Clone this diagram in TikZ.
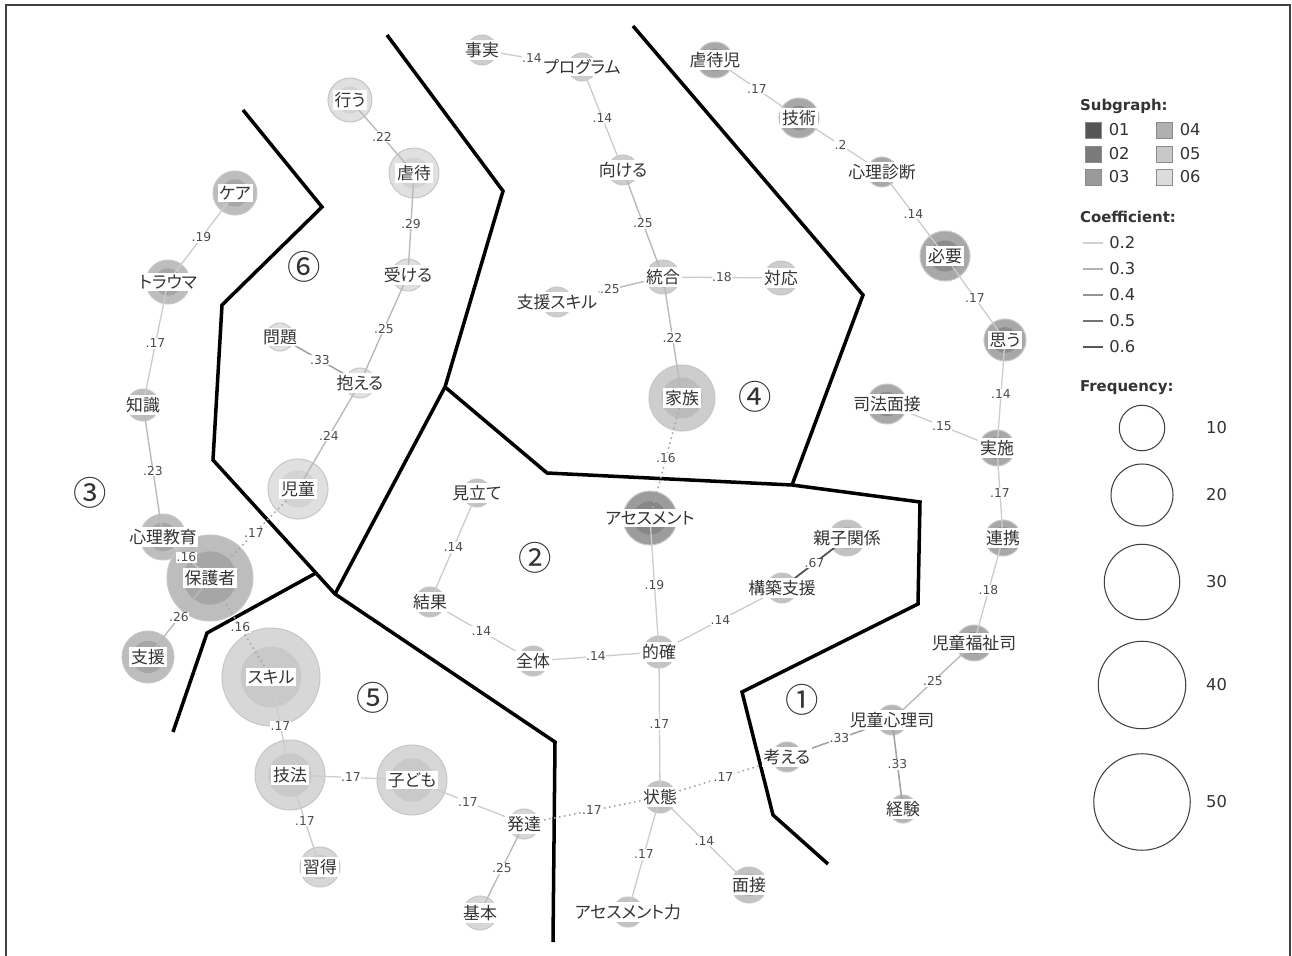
\documentclass[tikz,border=0pt]{standalone}
\usepackage{fontspec}
\setmainfont{DejaVu Sans}
\newfontfamily\jp[RawFeature=+palt]{Noto Sans CJK JP}
\newfontfamily\jpn{Noto Sans CJK JP}
\usetikzlibrary{positioning}

% subgraph shades (outer ring / inner disc)
\definecolor{gAo}{HTML}{A8A8A8}\definecolor{gAi}{HTML}{8D8D8D}
\definecolor{gBo}{HTML}{B6B6B6}\definecolor{gBi}{HTML}{A2A2A2}
\definecolor{gCo}{HTML}{9C9C9C}\definecolor{gCi}{HTML}{878787}
\definecolor{gDo}{HTML}{C2C2C2}\definecolor{gDi}{HTML}{ADADAD}
\definecolor{gEo}{HTML}{BDBDBD}\definecolor{gEi}{HTML}{A6A6A6}
\definecolor{gFo}{HTML}{CDCDCD}\definecolor{gFi}{HTML}{BCBCBC}
\definecolor{gGo}{HTML}{D7D7D7}\definecolor{gGi}{HTML}{C9C9C9}
\definecolor{gHo}{HTML}{E0E0E0}\definecolor{gHi}{HTML}{D3D3D3}
% legend squares
\definecolor{s01}{HTML}{555555}\definecolor{s02}{HTML}{7A7A7A}
\definecolor{s03}{HTML}{9A9A9A}\definecolor{s04}{HTML}{B0B0B0}
\definecolor{s05}{HTML}{C8C8C8}\definecolor{s06}{HTML}{DCDCDC}

\begin{document}
\begin{tikzpicture}[
  x=0.02cm, y=-0.02cm,
  kw/.style 2 args={circle, draw=black!22, line width=0.6pt, fill=#2o, inner sep=0pt,
    minimum size=#1*0.04cm,
    path picture={\fill[#2i] (path picture bounding box.center) circle[radius=#1*0.0124cm];}},
  kwl/.style={fill=white, inner sep=1pt, font=\jp\fontsize{9.6pt}{10pt}\selectfont, text=black!80},
  el/.style={font=\fontsize{7pt}{8pt}\selectfont, text=black!70, fill=white, inner sep=0.4pt},
  lnk/.style={line width=0.75pt, black!20},
  lnkb/.style={line width=0.8pt, black!27},
  lnkc/.style={line width=0.9pt, black!36},
  lnkd/.style={line width=1pt, black!68},
  cross/.style={line width=0.9pt, black!35, dotted},
  zone/.style={line width=2pt, black, line join=miter},
  rno/.style={font=\jpn\fontsize{19pt}{20pt}\selectfont, text=black!80},
  lgh/.style={anchor=west, inner sep=1pt, font=\bfseries\fontsize{8.5pt}{10pt}\selectfont, text=black!80},
  lgt/.style={inner sep=1pt, font=\fontsize{9.3pt}{11pt}\selectfont, text=black!80},
  sq/.style={draw=black!45, line width=0.5pt, minimum size=0.32cm, inner sep=0pt},
  fq/.style={circle, draw=black!75, line width=0.6pt, inner sep=0pt},
]
\useasboundingbox (0,0) rectangle (1292,956);
\draw[black!75, line width=0.8pt] (6,956) -- (6,5) -- (1290,5) -- (1290,956);

% subgraph borders
\coordinate (j1) at (445,387);
\coordinate (j2) at (335,594);
\coordinate (j3) at (792,485);
\coordinate (j4) at (316,573);
\draw[zone] (243,110) -- (322,207) -- (222,305) -- (213,460) -- (j2) -- (555,742) -- (553,942);
\draw[zone] (387,35) -- (503,191) -- (j1) -- (j2);
\draw[zone] (j1) -- (547,473) -- (j3) -- (920,502) -- (918,604) -- (742,692) -- (773,815) -- (828,864);
\draw[zone] (633,26) -- (863,295) -- (j3);
\draw[zone] (j4) -- (207,633) -- (173,732);

% words
\node[kw={15}{gF}] (jijitsu) at (482,50) {};
\node[kw={14}{gF}] (program) at (582,67) {};
\node[kw={15}{gF}] (mukeru) at (623,170) {};
\node[kw={17}{gF}] (tougou) at (663,277) {};
\node[kw={17}{gF}] (taiou) at (781,278) {};
\node[kw={15}{gF}] (shienskill) at (557,302) {};
\node[kw={33}{gF}] (kazoku) at (682,398) {};

\node[kw={22}{gH}] (okonau) at (350,100) {};
\node[kw={25}{gH}] (gyakutai) at (414,173) {};
\node[kw={16}{gH}] (ukeru) at (408,275) {};
\node[kw={14}{gH}] (mondai) at (280,337) {};
\node[kw={15}{gH}] (kakaeru) at (360,383) {};
\node[kw={30}{gH}] (jidou) at (298,489) {};

\node[kw={22}{gE}] (care) at (235,193) {};
\node[kw={22}{gE}] (trauma) at (168,282) {};
\node[kw={16}{gE}] (chishiki) at (143,405) {};
\node[kw={23}{gE}] (shinrikyouiku) at (163,537) {};
\node[kw={43}{gE}] (hogosha) at (210,578) {};
\node[kw={26}{gE}] (shien) at (148,657) {};

\node[kw={49}{gG}] (skill) at (271,677) {};
\node[kw={35}{gG}] (gihou) at (290,775) {};
\node[kw={35}{gG}] (kodomo) at (412,780) {};
\node[kw={20}{gG}] (shuutoku) at (320,867) {};
\node[kw={15}{gG}] (hattatsu) at (524,824) {};
\node[kw={17}{gG}] (kihon) at (480,913) {};

\node[kw={14}{gD}] (mitate) at (477,493) {};
\node[kw={27}{gC}] (assess) at (650,518) {};
\node[kw={18}{gD}] (oyako) at (847,538) {};
\node[kw={15}{gD}] (kouchiku) at (782,588) {};
\node[kw={15}{gD}] (kekka) at (430,602) {};
\node[kw={15}{gD}] (zentai) at (533,661) {};
\node[kw={16}{gD}] (tekikaku) at (659,652) {};
\node[kw={16}{gD}] (joutai) at (660,797) {};
\node[kw={15}{gD}] (assessryoku) at (628,912) {};
\node[kw={18}{gD}] (mensetsu) at (749,885) {};

\node[kw={18}{gA}] (gyakutaiji) at (715,60) {};
\node[kw={20}{gA}] (gijutsu) at (799,118) {};
\node[kw={15}{gA}] (shinrishindan) at (882,172) {};
\node[kw={25}{gA}] (hitsuyou) at (945,256) {};
\node[kw={21}{gA}] (omou) at (1005,340) {};
\node[kw={20}{gA}] (shihou) at (887,404) {};
\node[kw={18}{gA}] (jisshi) at (997,448) {};
\node[kw={18}{gA}] (renkei) at (1003,538) {};
\node[kw={18}{gA}] (fukushishi) at (974,643) {};

\node[kw={15}{gB}] (shinrishi) at (892,720) {};
\node[kw={15}{gB}] (kangaeru) at (787,757) {};
\node[kw={14}{gB}] (keiken) at (903,809) {};

% co-occurrence links
\draw[lnk] (jijitsu.center) -- node[el] {.14} (program.center);
\draw[lnk] (program.center) -- node[el] {.14} (mukeru.center);
\draw[lnkb] (mukeru.center) -- node[el] {.25} (tougou.center);
\draw[lnkb] (tougou.center) -- node[el] {.25} (shienskill.center);
\draw[lnk] (tougou.center) -- node[el] {.18} (taiou.center);
\draw[lnkb] (tougou.center) -- node[el] {.22} (kazoku.center);
\draw[cross] (kazoku.center) -- node[el] {.16} (assess.center);

\draw[lnkb] (okonau.center) -- node[el] {.22} (gyakutai.center);
\draw[lnkb] (gyakutai.center) -- node[el] {.29} (ukeru.center);
\draw[lnkb] (ukeru.center) -- node[el] {.25} (kakaeru.center);
\draw[lnkc] (kakaeru.center) -- node[el] {.33} (mondai.center);
\draw[lnkb] (kakaeru.center) -- node[el] {.24} (jidou.center);
\draw[cross] (hogosha.center) -- node[el] {.17} (jidou.center);

\draw[lnk] (care.center) -- node[el] {.19} (trauma.center);
\draw[lnk] (trauma.center) -- node[el] {.17} (chishiki.center);
\draw[lnkb] (chishiki.center) -- node[el] {.23} (shinrikyouiku.center);
\draw[lnk] (shinrikyouiku.center) -- node[el] {.16} (hogosha.center);
\draw[lnkb] (hogosha.center) -- node[el] {.26} (shien.center);
\draw[cross] (hogosha.center) -- node[el] {.16} (skill.center);

\draw[lnk] (skill.center) -- node[el] {.17} (gihou.center);
\draw[lnk] (gihou.center) -- node[el] {.17} (kodomo.center);
\draw[lnk] (gihou.center) -- node[el] {.17} (shuutoku.center);
\draw[lnk] (kodomo.center) -- node[el] {.17} (hattatsu.center);
\draw[lnkb] (hattatsu.center) -- node[el] {.25} (kihon.center);
\draw[cross] (hattatsu.center) -- node[el] {.17} (joutai.center);

\draw[lnk] (mitate.center) -- node[el] {.14} (kekka.center);
\draw[lnk] (kekka.center) -- node[el] {.14} (zentai.center);
\draw[lnk] (zentai.center) -- node[el] {.14} (tekikaku.center);
\draw[lnk] (assess.center) -- node[el] {.19} (tekikaku.center);
\draw[lnk] (tekikaku.center) -- node[el] {.14} (kouchiku.center);
\draw[lnkd] (kouchiku.center) -- node[el] {.67} (oyako.center);
\draw[lnk] (tekikaku.center) -- node[el] {.17} (joutai.center);
\draw[lnk] (joutai.center) -- node[el] {.17} (assessryoku.center);
\draw[lnk] (joutai.center) -- node[el] {.14} (mensetsu.center);
\draw[cross] (joutai.center) -- node[el] {.17} (kangaeru.center);

\draw[lnk] (gyakutaiji.center) -- node[el] {.17} (gijutsu.center);
\draw[lnk] (gijutsu.center) -- node[el] {.2} (shinrishindan.center);
\draw[lnk] (shinrishindan.center) -- node[el] {.14} (hitsuyou.center);
\draw[lnk] (hitsuyou.center) -- node[el] {.17} (omou.center);
\draw[lnk] (omou.center) -- node[el] {.14} (jisshi.center);
\draw[lnk] (shihou.center) -- node[el] {.15} (jisshi.center);
\draw[lnk] (jisshi.center) -- node[el] {.17} (renkei.center);
\draw[lnk] (renkei.center) -- node[el] {.18} (fukushishi.center);
\draw[lnkb] (fukushishi.center) -- node[el] {.25} (shinrishi.center);
\draw[lnkc] (shinrishi.center) -- node[el] {.33} (kangaeru.center);
\draw[lnkc] (shinrishi.center) -- node[el] {.33} (keiken.center);

% word labels
\node[kwl] (jijitsu-t) at (jijitsu) {事実};
\node[kwl] (program-t) at (program) {プログラム};
\node[kwl] (mukeru-t) at (mukeru) {向ける};
\node[kwl] (tougou-t) at (tougou) {統合};
\node[kwl] (taiou-t) at (taiou) {対応};
\node[kwl] (shienskill-t) at (shienskill) {支援スキル};
\node[kwl] (kazoku-t) at (kazoku) {家族};
\node[kwl] (okonau-t) at (okonau) {行う};
\node[kwl] (gyakutai-t) at (gyakutai) {虐待};
\node[kwl] (ukeru-t) at (ukeru) {受ける};
\node[kwl] (mondai-t) at (mondai) {問題};
\node[kwl] (kakaeru-t) at (kakaeru) {抱える};
\node[kwl] (jidou-t) at (jidou) {児童};
\node[kwl] (care-t) at (care) {ケア};
\node[kwl] (trauma-t) at (trauma) {トラウマ};
\node[kwl] (chishiki-t) at (chishiki) {知識};
\node[kwl] (shinrikyouiku-t) at (shinrikyouiku) {心理教育};
\node[kwl] (hogosha-t) at (hogosha) {保護者};
\node[kwl] (shien-t) at (shien) {支援};
\node[kwl] (skill-t) at (skill) {スキル};
\node[kwl] (gihou-t) at (gihou) {技法};
\node[kwl] (kodomo-t) at (kodomo) {子ども};
\node[kwl] (shuutoku-t) at (shuutoku) {習得};
\node[kwl] (hattatsu-t) at (hattatsu) {発達};
\node[kwl] (kihon-t) at (kihon) {基本};
\node[kwl] (mitate-t) at (mitate) {見立て};
\node[kwl] (assess-t) at (assess) {アセスメント};
\node[kwl] (oyako-t) at (oyako) {親子関係};
\node[kwl] (kouchiku-t) at (kouchiku) {構築支援};
\node[kwl] (kekka-t) at (kekka) {結果};
\node[kwl] (zentai-t) at (zentai) {全体};
\node[kwl] (tekikaku-t) at (tekikaku) {的確};
\node[kwl] (joutai-t) at (joutai) {状態};
\node[kwl] (assessryoku-t) at (assessryoku) {アセスメント力};
\node[kwl] (mensetsu-t) at (mensetsu) {面接};
\node[kwl] (gyakutaiji-t) at (gyakutaiji) {虐待児};
\node[kwl] (gijutsu-t) at (gijutsu) {技術};
\node[kwl] (shinrishindan-t) at (shinrishindan) {心理診断};
\node[kwl] (hitsuyou-t) at (hitsuyou) {必要};
\node[kwl] (omou-t) at (omou) {思う};
\node[kwl] (shihou-t) at (shihou) {司法面接};
\node[kwl] (jisshi-t) at (jisshi) {実施};
\node[kwl] (renkei-t) at (renkei) {連携};
\node[kwl] (fukushishi-t) at (fukushishi) {児童福祉司};
\node[kwl] (shinrishi-t) at (shinrishi) {児童心理司};
\node[kwl] (kangaeru-t) at (kangaeru) {考える};
\node[kwl] (keiken-t) at (keiken) {経験};

% region numbers
\node[rno] (r1) at (802,700) {①};
\node[rno] (r2) at (535,558) {②};
\node[rno] (r3) at (90,493) {③};
\node[rno] (r4) at (755,397) {④};
\node[rno] (r5) at (373,698) {⑤};
\node[rno] (r6) at (304,267) {⑥};

% legend
\node[lgh] (lg-sub) at (1078,106) {Subgraph:};
\node[sq, fill=s01] (sq01) at (1093,130) {};
\node[sq, fill=s02] (sq02) at (1093,154) {};
\node[sq, fill=s03] (sq03) at (1093,177) {};
\node[sq, fill=s04] (sq04) at (1164,130) {};
\node[sq, fill=s05] (sq05) at (1164,154) {};
\node[sq, fill=s06] (sq06) at (1164,177) {};
\node[lgt, right=3pt of sq01] {01};
\node[lgt, right=3pt of sq02] {02};
\node[lgt, right=3pt of sq03] {03};
\node[lgt, right=3pt of sq04] {04};
\node[lgt, right=3pt of sq05] {05};
\node[lgt, right=3pt of sq06] {06};

\node[lgh] (lg-coef) at (1078,217) {Coefficient:};
\draw[black!18, line width=1.2pt] (1083,243) -- ++(20,0) node[lgt, right=2pt] {0.2};
\draw[black!30, line width=1.2pt] (1083,269) -- ++(20,0) node[lgt, right=2pt] {0.3};
\draw[black!42, line width=1.2pt] (1083,295) -- ++(20,0) node[lgt, right=2pt] {0.4};
\draw[black!55, line width=1.2pt] (1083,321) -- ++(20,0) node[lgt, right=2pt] {0.5};
\draw[black!66, line width=1.2pt] (1083,347) -- ++(20,0) node[lgt, right=2pt] {0.6};

\node[lgh] (lg-freq) at (1078,388) {Frequency:};
\node[fq, minimum size=0.91cm] (f10) at (1142,428) {};
\node[fq, minimum size=1.24cm] (f20) at (1142,495) {};
\node[fq, minimum size=1.51cm] (f30) at (1142,582) {};
\node[fq, minimum size=1.75cm] (f40) at (1142,685) {};
\node[fq, minimum size=1.93cm] (f50) at (1142,802) {};
\node[lgt, anchor=west] at (1204,428) {10};
\node[lgt, anchor=west] at (1204,495) {20};
\node[lgt, anchor=west] at (1204,582) {30};
\node[lgt, anchor=west] at (1204,685) {40};
\node[lgt, anchor=west] at (1204,802) {50};
\end{tikzpicture}
\end{document}
